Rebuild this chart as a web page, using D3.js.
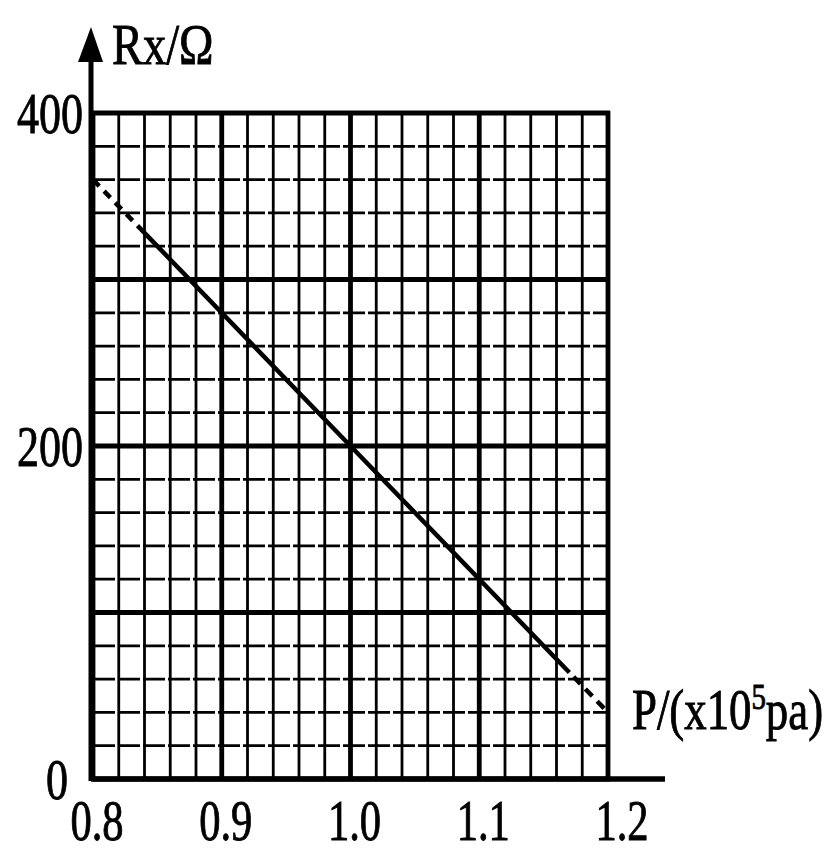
<!DOCTYPE html>
<html>
<head>
<meta charset="utf-8">
<script src="https://cdn.jsdelivr.net/npm/d3@7"></script>
<style>
  html, body { margin: 0; padding: 0; background: #fff; }
  svg { display: block; }
  text { font-family: "Liberation Serif", "DejaVu Serif", serif; fill: #000; stroke: #000; stroke-width: 0.9px; }
</style>
</head>
<body>
<svg id="chart" width="837" height="854"></svg>
<script>
// ---- data ----
const pressure = [0.8, 1.0, 1.2];          // P / (x10^5 Pa)
const resistance = [360, 200, 40];         // Rx / Ω
const xTicks = [0.8, 0.9, 1.0, 1.1, 1.2];
const yTicks = [0, 200, 400];
const xTickLabels = ["0.8", "0.9", "1.0", "1.1", "1.2"];
const yTickLabels = ["0", "200", "400"];
const xMajorStep = 0.1, xMinorStep = 0.02;
const yMajorStep = 100, yMinorStep = 20;

// ---- layout ----
const svg = d3.select("#chart");
const x = d3.scaleLinear().domain([0.8, 1.2]).range([93, 608]);
const y = d3.scaleLinear().domain([0, 400]).range([779, 113]);

const xMinor = d3.range(0, 21).map(i => +(0.8 + i * xMinorStep).toFixed(3));
const yMinor = d3.range(0, 21).map(i => i * yMinorStep);
const isMajorX = v => Math.abs(Math.round(v / xMajorStep) * xMajorStep - v) < 1e-6;
const isMajorY = v => v % yMajorStep === 0;

const grid = svg.append("g");
// minor vertical
grid.selectAll(".vmin").data(xMinor.filter(v => !isMajorX(v))).join("line")
  .attr("x1", d => x(d)).attr("x2", d => x(d))
  .attr("y1", y(400)).attr("y2", y(0))
  .attr("stroke", "#000").attr("stroke-width", 2.8);
// minor horizontal
grid.selectAll(".hmin").data(yMinor.filter(v => !isMajorY(v))).join("line")
  .attr("x1", x(0.8)).attr("x2", x(1.2))
  .attr("y1", d => y(d)).attr("y2", d => y(d))
  .attr("stroke", "#000").attr("stroke-width", 2.8)
  .attr("stroke-dasharray", "22 3");
// major vertical
grid.selectAll(".vmaj").data(xMinor.filter(v => isMajorX(v))).join("line")
  .attr("x1", d => x(d)).attr("x2", d => x(d))
  .attr("y1", y(400) - 2).attr("y2", y(0))
  .attr("stroke", "#000").attr("stroke-width", 4.8);
// major horizontal
grid.selectAll(".hmaj").data(yMinor.filter(v => isMajorY(v))).join("line")
  .attr("x1", x(0.8)).attr("x2", x(1.2) + 2)
  .attr("y1", d => y(d)).attr("y2", d => y(d))
  .attr("stroke", "#000").attr("stroke-width", 4.8);

// axes lines
svg.append("line")
  .attr("x1", x(0.8) - 2).attr("x2", 665)
  .attr("y1", y(0)).attr("y2", y(0))
  .attr("stroke", "#000").attr("stroke-width", 5.5);
svg.append("line")
  .attr("x1", x(0.8) - 2).attr("x2", x(0.8) - 2)
  .attr("y1", y(0) + 2).attr("y2", 50)
  .attr("stroke", "#000").attr("stroke-width", 5);
// arrow head
const ax = x(0.8) - 2;
svg.append("path")
  .attr("d", `M${ax},27 L${ax + 12},62 L${ax - 13},62 Z`)
  .attr("fill", "#000");

// data line
const line = d3.line().x((d, i) => x(pressure[i])).y(d => y(d));
const path = svg.append("path")
  .datum(resistance)
  .attr("d", line)
  .attr("fill", "none")
  .attr("stroke", "#000")
  .attr("stroke-width", 4.5);
const L = path.node().getTotalLength();
const startDash = L * 0.10, endDash = L * 0.075;
let pattern = [];
let acc = 0;
while (acc + 16 <= startDash) { pattern.push(9, 7); acc += 16; }
const solid = L - acc - endDash;
pattern.push(solid, 6);
let rem = L - acc - solid - 6;
while (rem > 0) { pattern.push(10, 7); rem -= 17; }
path.attr("stroke-dasharray", pattern.join(" "));

// tick labels
const fs = 56, sx = 0.76;
svg.append("g").selectAll("text").data(xTicks).join("text")
  .attr("transform", (d, i) => `translate(${x(d) + (i === 4 ? 14 : 4)},840) scale(${sx},1)`)
  .attr("text-anchor", "middle")
  .attr("font-size", fs)
  .text((d, i) => xTickLabels[i]);

svg.append("g").selectAll("text").data(yTicks).join("text")
  .attr("transform", (d, i) => `translate(${i === 0 ? 68 : 83},${y(d) + 20}) scale(${sx},1)`)
  .attr("text-anchor", "end")
  .attr("font-size", 58)
  .text((d, i) => yTickLabels[i]);

// axis titles
svg.append("text")
  .attr("transform", `translate(112,64) scale(0.8,1)`)
  .attr("font-size", 58)
  .text("Rx/Ω");

const xt = svg.append("text")
  .attr("transform", `translate(632,729) scale(0.8,1)`)
  .attr("font-size", 56);
xt.append("tspan").text("P/(x10");
xt.append("tspan").attr("font-size", 36).attr("dy", -20).text("5");
xt.append("tspan").attr("dy", 20).text("pa)");
</script>
</body>
</html>
